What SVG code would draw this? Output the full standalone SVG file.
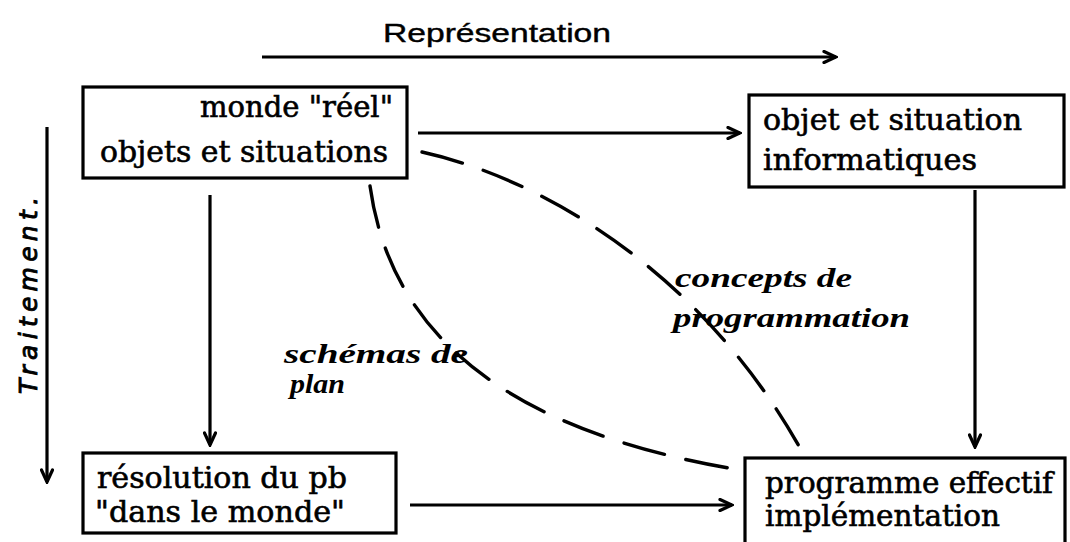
<svg xmlns="http://www.w3.org/2000/svg" width="1070" height="542" viewBox="0 0 1070 542">
<style>
.box{fill:#fff;stroke:#000;stroke-width:3.2}
.ln{fill:none;stroke:#000;stroke-width:3.2}
.dash{fill:none;stroke:#000;stroke-width:3.4;stroke-dasharray:42 22;stroke-linecap:round}
.t{font-family:"DejaVu Serif","Liberation Serif",serif;font-size:29px;fill:#000;stroke:#000;stroke-width:0.6}
.it{font-family:"Liberation Serif",serif;font-style:italic;font-weight:bold;font-size:28px;fill:#000}
.sans{font-family:"Liberation Sans",sans-serif;font-size:25px;fill:#000;stroke:#000;stroke-width:0.4}
.hand{font-family:"DejaVu Sans",sans-serif;font-style:italic;font-size:25px;fill:#000;stroke:#000;stroke-width:0.9}
</style>
<defs>
<marker id="ah" viewBox="0 0 16 14" refX="14" refY="7" markerWidth="16" markerHeight="14" markerUnits="userSpaceOnUse" orient="auto">
<path d="M2,1.5 L14,7 L2,12.5" fill="none" stroke="#000" stroke-width="3.2" stroke-linejoin="miter" stroke-linecap="round"/>
</marker>
</defs>
<rect width="1070" height="542" fill="#fff"/>

<g id="labels">
<text class="sans" x="383" y="42" textLength="228" lengthAdjust="spacingAndGlyphs">Représentation</text>
<text class="hand" transform="translate(37,394) rotate(-90)" textLength="197" lengthAdjust="spacing">Traitement.</text>
<text class="it" x="675" y="287" textLength="177" lengthAdjust="spacingAndGlyphs">concepts de</text>
<text class="it" x="673" y="327" textLength="237" lengthAdjust="spacingAndGlyphs">programmation</text>
<text class="it" x="284" y="363" textLength="184" lengthAdjust="spacingAndGlyphs">schémas de</text>
<text class="it" x="290" y="393" textLength="55" lengthAdjust="spacingAndGlyphs">plan</text>
</g>

<g id="connectors">
<line class="ln" x1="262" y1="57" x2="836" y2="57" marker-end="url(#ah)"/>
<line class="ln" x1="47" y1="127" x2="47" y2="482" marker-end="url(#ah)"/>
<line class="ln" x1="418" y1="133" x2="740" y2="133" marker-end="url(#ah)"/>
<line class="ln" x1="210" y1="195" x2="210" y2="445" marker-end="url(#ah)"/>
<line class="ln" x1="975" y1="190" x2="975" y2="447" marker-end="url(#ah)"/>
<line class="ln" x1="410" y1="505" x2="732" y2="505" marker-end="url(#ah)"/>
<path class="dash" d="M422,152 C540,178 700,270 800,448"/>
<path class="dash" d="M370,186 C390,330 500,430 740,470"/>
</g>

<g id="n-monde">
<rect class="box" x="83" y="87" width="324" height="91"/>
<text class="t" x="393" y="117" text-anchor="end" textLength="193" lengthAdjust="spacingAndGlyphs">monde "réel"</text>
<text class="t" x="100" y="162" textLength="288" lengthAdjust="spacingAndGlyphs">objets et situations</text>
</g>

<g id="n-informatique">
<rect class="box" x="749" y="95" width="315" height="92"/>
<text class="t" x="763" y="130" textLength="259" lengthAdjust="spacingAndGlyphs">objet et situation</text>
<text class="t" x="763" y="170" textLength="214" lengthAdjust="spacingAndGlyphs">informatiques</text>
</g>

<g id="n-resolution">
<rect class="box" x="83" y="453" width="313" height="80"/>
<text class="t" x="97" y="488" textLength="250" lengthAdjust="spacingAndGlyphs">résolution du pb</text>
<text class="t" x="95" y="522" textLength="250" lengthAdjust="spacingAndGlyphs">"dans le monde"</text>
</g>

<g id="n-programme">
<rect class="box" x="745" y="458" width="320" height="100"/>
<text class="t" x="765" y="493" textLength="288" lengthAdjust="spacingAndGlyphs">programme effectif</text>
<text class="t" x="765" y="526" textLength="235" lengthAdjust="spacingAndGlyphs">implémentation</text>
</g>
</svg>
